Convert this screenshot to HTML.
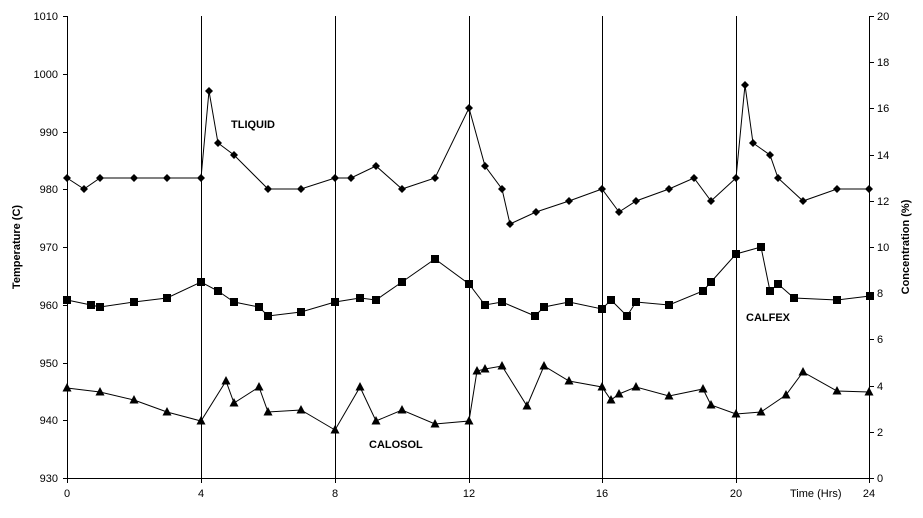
<!DOCTYPE html><html><head><style>body{margin:0;background:#fff}svg{display:block}text{font-family:"Liberation Sans",Arial,sans-serif;font-size:11px;fill:#000}.b{font-weight:bold}</style></head><body>
<svg width="923" height="518" xmlns="http://www.w3.org/2000/svg">
<defs>
<path id="d" d="M0,-4L4,0L0,4L-4,0Z"/>
<rect id="s" x="-4" y="-4" width="8" height="8"/>
<path id="t" d="M0,-5L4.5,3.5L-4.5,3.5Z"/>
</defs>
<g stroke="#000" stroke-width="1" fill="none" shape-rendering="crispEdges">
<line x1="67.5" y1="16" x2="67.5" y2="478"/>
<line x1="869.5" y1="16" x2="869.5" y2="478"/>
<line x1="67" y1="478.5" x2="870" y2="478.5"/>
<line x1="201.5" y1="16" x2="201.5" y2="478"/><line x1="335.5" y1="16" x2="335.5" y2="478"/><line x1="469.5" y1="16" x2="469.5" y2="478"/><line x1="602.5" y1="16" x2="602.5" y2="478"/><line x1="736.5" y1="16" x2="736.5" y2="478"/>
<path d="M63 16.5h4M63 74.5h4M63 132.5h4M63 189.5h4M63 247.5h4M63 305.5h4M63 363.5h4M63 420.5h4M63 478.5h4"/>
<path d="M869 16.5h5M869 62.5h5M869 108.5h5M869 155.5h5M869 201.5h5M869 247.5h5M869 293.5h5M869 339.5h5M869 386.5h5M869 432.5h5M869 478.5h5"/>
<path d="M67.5 478v5M201.5 478v5M335.5 478v5M469.5 478v5M602.5 478v5M736.5 478v5M869.5 478v5"/>
</g>
<g stroke="#000" fill="none" stroke-width="1">
<polyline points="67,178 84,189 100,178 134,178 167,178 201,178 209,91 218,143 234,155 268,189 301,189 335,178 351,178 376,166 402,189 435,178 469,108 485,166 502,189 510,224 536,212 569,201 602,189 619,212 636,201 669,189 694,178 711,201 736,178 745,85 753,143 770,155 778,178 803,201 837,189 869,189"/>
<polyline points="67,300 91,305 100,307 134,302 167,298 201,282 218,291 234,302 259,307 268,316 301,312 335,302 360,298 376,300 402,282 435,259 469,284 485,305 502,302 535,316 544,307 569,302 602,309 611,300 627,316 636,302 669,305 703,291 711,282 736,254 761,247 770,291 778,284 794,298 837,300 870,296"/>
<polyline points="67,388 100,392 134,400 167,412 201,421 226,381 234,403 259,387 268,412 301,410 335,430 360,387 376,421 402,410 435,424 469,421 477,371 485,369 502,366 527,406 544,366 569,381 602,387 611,400 619,394 636,387 669,396 703,389 711,405 736,414 761,412 786,395 803,372 837,391 869,392"/>
</g>
<g fill="#000">
<g id="D"></g>
</g>
<script>
var ns="http://www.w3.org/2000/svg",g=document.getElementById("D");
var pl=document.querySelectorAll("polyline"),ids=["d","s","t"];
pl.forEach(function(p,i){p.getAttribute("points").trim().split(/\s+/).forEach(function(q){var c=q.split(",");var u=document.createElementNS(ns,"use");u.setAttribute("href","#"+ids[i]);u.setAttribute("x",c[0]);u.setAttribute("y",c[1]);g.appendChild(u);});});
</script>
<g text-anchor="end">
<text x="58" y="20">1010</text><text x="58" y="78">1000</text><text x="58" y="136">990</text><text x="58" y="193">980</text><text x="58" y="251">970</text><text x="58" y="309">960</text><text x="58" y="367">950</text><text x="58" y="424">940</text><text x="58" y="482">930</text>
</g>
<g>
<text x="877" y="20">20</text><text x="877" y="66">18</text><text x="877" y="112">16</text><text x="877" y="159">14</text><text x="877" y="205">12</text><text x="877" y="251">10</text><text x="877" y="297">8</text><text x="877" y="343">6</text><text x="877" y="390">4</text><text x="877" y="436">2</text><text x="877" y="482">0</text>
</g>
<g text-anchor="middle">
<text x="67" y="497">0</text><text x="201" y="497">4</text><text x="335" y="497">8</text><text x="469" y="497">12</text><text x="602" y="497">16</text><text x="869" y="497">24</text>
<text x="736" y="497">20</text>
</g>
<text x="790" y="497">Time (Hrs)</text>
<text class="b" x="231" y="128">TLIQUID</text>
<text class="b" x="746" y="321">CALFEX</text>
<text class="b" x="369" y="448">CALOSOL</text>
<text class="b" text-anchor="middle" transform="translate(20,247) rotate(-90)">Temperature (C)</text>
<text class="b" text-anchor="middle" transform="translate(909,247) rotate(-90)">Concentration (%)</text>
</svg></body></html>
